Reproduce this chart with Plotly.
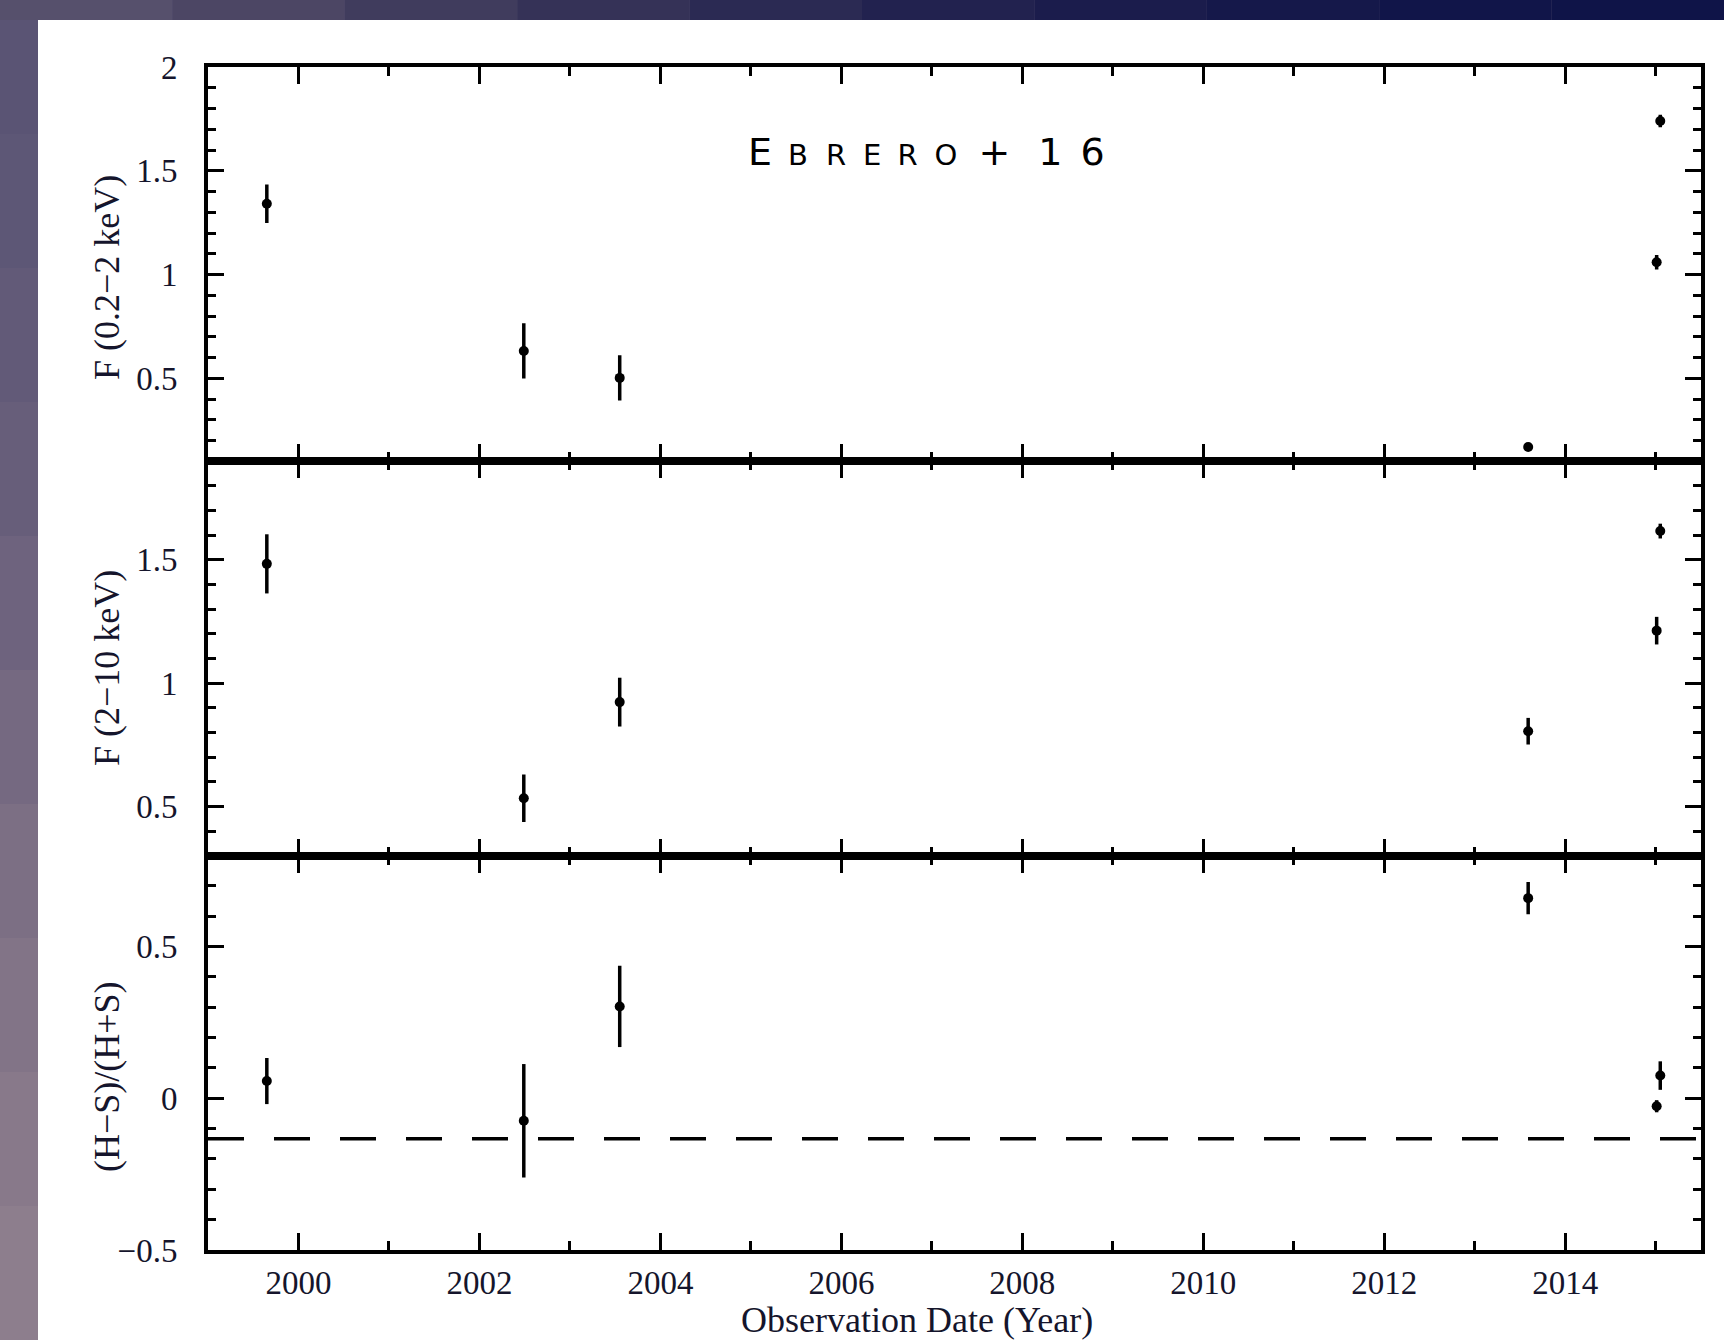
import plotly.graph_objects as go
from plotly.subplots import make_subplots

# ---------------- data ----------------
obs_year = [1999.65, 2002.49, 2003.55, 2013.59, 2015.05, 2015.01]

soft_flux = [1.341, 0.632, 0.502, 0.169, 1.740, 1.059]        # F(0.2-2 keV)
soft_err = [0.093, 0.133, 0.109, 0.012, 0.030, 0.035]

hard_flux = [1.484, 0.533, 0.923, 0.805, 1.617, 1.213]        # F(2-10 keV)
hard_err = [0.120, 0.096, 0.099, 0.054, 0.030, 0.056]

hardness = [0.057, -0.074, 0.303, 0.660, 0.075, -0.026]       # (H-S)/(H+S)
hardness_err = [0.076, 0.187, 0.134, 0.053, 0.047, 0.020]

hardness_ref = -0.133

panel_titles = ["F (0.2\u22122 keV)", "F (2\u221210 keV)", "(H\u2212S)/(H+S)"]
x_title = "Observation Date (Year)"
x_ticks = [2000, 2002, 2004, 2006, 2008, 2010, 2012, 2014]

# ---------------- figure ----------------
W, H = 1724, 1340
L, R, T, B = 208, 23, 67, 90
pw, ph = W - L - R, H - T - B

fig = make_subplots(rows=3, cols=1, shared_xaxes=True, vertical_spacing=0)

ink = "#15152c"
series = [(soft_flux, soft_err), (hard_flux, hard_err), (hardness, hardness_err)]
for i, (vals, errs) in enumerate(series, start=1):
    fig.add_trace(go.Scatter(
        x=obs_year, y=vals, mode="markers",
        marker=dict(symbol="circle", size=10, color="black"),
        error_y=dict(type="data", array=errs, visible=True,
                     thickness=3.5, width=0, color="black"),
        showlegend=False), row=i, col=1)

fig.add_hline(y=hardness_ref, row=3, col=1,
              line=dict(color="black", width=3.5, dash="36px,30px"))

tickfont = dict(family="Liberation Serif", size=33, color=ink)
axis_common = dict(showline=True, linecolor="black", linewidth=4, mirror="ticks",
                   ticks="inside", tickcolor="black", tickwidth=3,
                   showgrid=False, zeroline=False, tickfont=tickfont)

for i in range(1, 4):
    fig.update_xaxes(range=[1999, 2015.5], tickvals=x_ticks, ticklen=17,
                     minor=dict(dtick=1, tick0=1999, ticklen=9, ticks="inside",
                                tickwidth=3, tickcolor="black"),
                     showticklabels=(i == 3), ticklabelstandoff=0,
                     row=i, col=1, **axis_common)

yranges = [[0.1, 2.0], [0.3, 1.9], [-0.5, 0.8]]
for i, rng in enumerate(yranges, start=1):
    fig.update_yaxes(range=rng, dtick=0.5, tick0=0, ticklen=16,
                     minor=dict(dtick=0.1, ticklen=8, ticks="inside",
                                tickwidth=3, tickcolor="black"),
                     ticklabelstandoff=20, row=i, col=1, **axis_common)

def px_to_paper_x(px):
    return (px - L) / pw

def py_to_paper_y(py):
    return (H - B - py) / ph

# background: dark space photo look + white sheet
shapes = []
left_cols = ["#5a5474", "#5d5776", "#625a78", "#675e7a", "#6e637e",
             "#756981", "#7c6f84", "#827487", "#88798a", "#8d7e8d"]
n = len(left_cols)
for k, c in enumerate(left_cols):
    shapes.append(dict(type="rect", xref="paper", yref="paper", layer="below",
                       x0=px_to_paper_x(0), x1=px_to_paper_x(38),
                       y0=py_to_paper_y(H * (k + 1) / n), y1=py_to_paper_y(H * k / n),
                       fillcolor=c, line=dict(width=0)))
top_cols = ["#56506c", "#4c4664", "#403c5d", "#353257", "#2b2a53",
            "#22224f", "#1b1c4c", "#15184a", "#111549", "#0f1448"]
n = len(top_cols)
for k, c in enumerate(top_cols):
    shapes.append(dict(type="rect", xref="paper", yref="paper", layer="below",
                       x0=px_to_paper_x(W * k / n), x1=px_to_paper_x(W * (k + 1) / n),
                       y0=py_to_paper_y(20), y1=py_to_paper_y(0),
                       fillcolor=c, line=dict(width=0)))
shapes.append(dict(type="rect", xref="paper", yref="paper", layer="below",
                   x0=px_to_paper_x(38), x1=px_to_paper_x(W),
                   y0=py_to_paper_y(H), y1=py_to_paper_y(20),
                   fillcolor="white", line=dict(width=0)))

annotations = []
title_centers = [278, 668, 1077]
for txt, cy in zip(panel_titles, title_centers):
    annotations.append(dict(text=txt, xref="paper", yref="paper",
                            x=px_to_paper_x(107), y=py_to_paper_y(cy),
                            textangle=-90, showarrow=False,
                            xanchor="center", yanchor="middle",
                            font=dict(family="Liberation Serif", size=36, color=ink)))
annotations.append(dict(text=x_title, xref="paper", yref="paper",
                        x=px_to_paper_x(917), y=py_to_paper_y(1320),
                        showarrow=False, xanchor="center", yanchor="middle",
                        font=dict(family="Liberation Serif", size=36, color=ink)))


def sp(w):
    return "<span style='font-size:%dpx'>\u2002</span>" % int(round(2 * w))


def sc(txt):
    return "<span style='font-size:29px'>%s</span>" % txt


big = "<span style='font-size:38px'>%s</span>"
label_text = (big % "E" + sp(16) + sc("B") + sp(18) + sc("R") + sp(17) + sc("E")
              + sp(16) + sc("R") + sp(17) + sc("O") + sp(21) + big % "+" + sp(28)
              + big % "1" + sp(18) + big % "6")
annotations.append(dict(
    text=label_text,
    xref="paper", yref="paper", x=px_to_paper_x(746), y=py_to_paper_y(145),
    showarrow=False, xanchor="left", yanchor="middle",
    font=dict(family="DejaVu Sans", size=38, color="black")))

fig.update_layout(width=W, height=H, margin=dict(l=L, r=R, t=T, b=B),
                  paper_bgcolor="#5a5474", plot_bgcolor="white",
                  shapes=shapes, annotations=annotations, showlegend=False)

fig.write_html("out.html", config={"displayModeBar": False},
               post_script="document.body.style.margin='0px';document.body.style.padding='0px';")
